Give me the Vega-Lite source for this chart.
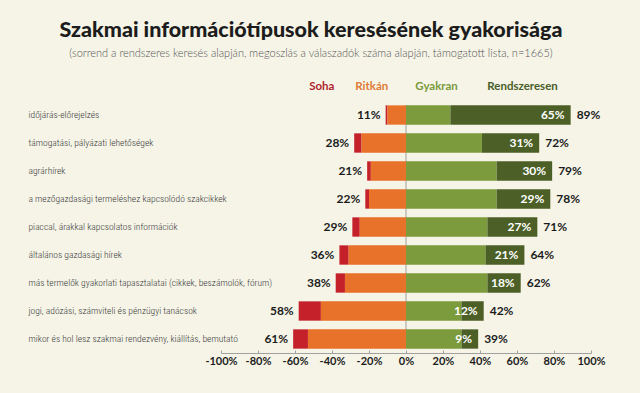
{
  "$schema": "https://vega.github.io/schema/vega-lite/v6.json",
  "width": 370,
  "height": 280,
  "autosize": {"type": "none"},
  "padding": {"left": 221, "top": 73, "right": 49, "bottom": 40},
  "background": "#f5f4e7",
  "title": {
    "text": "Szakmai információtípusok keresésének gyakorisága",
    "subtitle": "(sorrend a rendszeres keresés alapján, megoszlás a válaszadók száma alapján, támogatott lista, n=1665)",
    "anchor": "middle",
    "dx": -95,
    "font": "Lato",
    "fontSize": 21.5,
    "fontWeight": 900,
    "color": "#1c1c1c",
    "subtitleFont": "Lato",
    "subtitleFontSize": 11,
    "subtitleFontWeight": 300,
    "subtitleColor": "#555555",
    "subtitlePadding": 7,
    "offset": 14
  },
  "config": {
    "view": {"stroke": null},
    "font": "Lato"
  },
  "datasets": {
    "bars": [
      {"cat": "időjárás-előrejelzés", "type": "Soha", "ord": 2, "v": 0.01},
      {"cat": "időjárás-előrejelzés", "type": "Ritkán", "ord": 1, "v": 0.10},
      {"cat": "időjárás-előrejelzés", "type": "Gyakran", "ord": 1, "v": 0.24},
      {"cat": "időjárás-előrejelzés", "type": "Rendszeresen", "ord": 2, "v": 0.65},
      {"cat": "támogatási, pályázati lehetőségek", "type": "Soha", "ord": 2, "v": 0.04},
      {"cat": "támogatási, pályázati lehetőségek", "type": "Ritkán", "ord": 1, "v": 0.24},
      {"cat": "támogatási, pályázati lehetőségek", "type": "Gyakran", "ord": 1, "v": 0.41},
      {"cat": "támogatási, pályázati lehetőségek", "type": "Rendszeresen", "ord": 2, "v": 0.31},
      {"cat": "agrárhírek", "type": "Soha", "ord": 2, "v": 0.02},
      {"cat": "agrárhírek", "type": "Ritkán", "ord": 1, "v": 0.19},
      {"cat": "agrárhírek", "type": "Gyakran", "ord": 1, "v": 0.49},
      {"cat": "agrárhírek", "type": "Rendszeresen", "ord": 2, "v": 0.30},
      {"cat": "a mezőgazdasági termeléshez kapcsolódó szakcikkek", "type": "Soha", "ord": 2, "v": 0.02},
      {"cat": "a mezőgazdasági termeléshez kapcsolódó szakcikkek", "type": "Ritkán", "ord": 1, "v": 0.20},
      {"cat": "a mezőgazdasági termeléshez kapcsolódó szakcikkek", "type": "Gyakran", "ord": 1, "v": 0.49},
      {"cat": "a mezőgazdasági termeléshez kapcsolódó szakcikkek", "type": "Rendszeresen", "ord": 2, "v": 0.29},
      {"cat": "piaccal, árakkal kapcsolatos információk", "type": "Soha", "ord": 2, "v": 0.04},
      {"cat": "piaccal, árakkal kapcsolatos információk", "type": "Ritkán", "ord": 1, "v": 0.25},
      {"cat": "piaccal, árakkal kapcsolatos információk", "type": "Gyakran", "ord": 1, "v": 0.44},
      {"cat": "piaccal, árakkal kapcsolatos információk", "type": "Rendszeresen", "ord": 2, "v": 0.27},
      {"cat": "általános gazdasági hírek", "type": "Soha", "ord": 2, "v": 0.05},
      {"cat": "általános gazdasági hírek", "type": "Ritkán", "ord": 1, "v": 0.31},
      {"cat": "általános gazdasági hírek", "type": "Gyakran", "ord": 1, "v": 0.43},
      {"cat": "általános gazdasági hírek", "type": "Rendszeresen", "ord": 2, "v": 0.21},
      {"cat": "más termelők gyakorlati tapasztalatai (cikkek, beszámolók, fórum)", "type": "Soha", "ord": 2, "v": 0.05},
      {"cat": "más termelők gyakorlati tapasztalatai (cikkek, beszámolók, fórum)", "type": "Ritkán", "ord": 1, "v": 0.33},
      {"cat": "más termelők gyakorlati tapasztalatai (cikkek, beszámolók, fórum)", "type": "Gyakran", "ord": 1, "v": 0.44},
      {"cat": "más termelők gyakorlati tapasztalatai (cikkek, beszámolók, fórum)", "type": "Rendszeresen", "ord": 2, "v": 0.18},
      {"cat": "jogi, adózási, számviteli és pénzügyi tanácsok", "type": "Soha", "ord": 2, "v": 0.12},
      {"cat": "jogi, adózási, számviteli és pénzügyi tanácsok", "type": "Ritkán", "ord": 1, "v": 0.46},
      {"cat": "jogi, adózási, számviteli és pénzügyi tanácsok", "type": "Gyakran", "ord": 1, "v": 0.30},
      {"cat": "jogi, adózási, számviteli és pénzügyi tanácsok", "type": "Rendszeresen", "ord": 2, "v": 0.12},
      {"cat": "mikor és hol lesz szakmai rendezvény, kiállítás, bemutató", "type": "Soha", "ord": 2, "v": 0.08},
      {"cat": "mikor és hol lesz szakmai rendezvény, kiállítás, bemutató", "type": "Ritkán", "ord": 1, "v": 0.53},
      {"cat": "mikor és hol lesz szakmai rendezvény, kiállítás, bemutató", "type": "Gyakran", "ord": 1, "v": 0.30},
      {"cat": "mikor és hol lesz szakmai rendezvény, kiállítás, bemutató", "type": "Rendszeresen", "ord": 2, "v": 0.09}
    ],
    "labels": [
      {"cat": "időjárás-előrejelzés", "left": 0.11, "inner": 0.65, "right": 0.89},
      {"cat": "támogatási, pályázati lehetőségek", "left": 0.28, "inner": 0.31, "right": 0.72},
      {"cat": "agrárhírek", "left": 0.21, "inner": 0.30, "right": 0.79},
      {"cat": "a mezőgazdasági termeléshez kapcsolódó szakcikkek", "left": 0.22, "inner": 0.29, "right": 0.78},
      {"cat": "piaccal, árakkal kapcsolatos információk", "left": 0.29, "inner": 0.27, "right": 0.71},
      {"cat": "általános gazdasági hírek", "left": 0.36, "inner": 0.21, "right": 0.64},
      {"cat": "más termelők gyakorlati tapasztalatai (cikkek, beszámolók, fórum)", "left": 0.38, "inner": 0.18, "right": 0.62},
      {"cat": "jogi, adózási, számviteli és pénzügyi tanácsok", "left": 0.58, "inner": 0.12, "right": 0.42},
      {"cat": "mikor és hol lesz szakmai rendezvény, kiállítás, bemutató", "left": 0.61, "inner": 0.09, "right": 0.39}
    ],
    "headers": [
      {"cat": "", "h": "Soha", "x": -0.455},
      {"cat": "", "h": "Ritkán", "x": -0.185},
      {"cat": "", "h": "Gyakran", "x": 0.165},
      {"cat": "", "h": "Rendszeresen", "x": 0.63}
    ]
  },
  "encoding": {
    "y": {
      "field": "cat",
      "type": "nominal",
      "scale": {
        "domain": ["", "időjárás-előrejelzés", "támogatási, pályázati lehetőségek", "agrárhírek", "a mezőgazdasági termeléshez kapcsolódó szakcikkek", "piaccal, árakkal kapcsolatos információk", "általános gazdasági hírek", "más termelők gyakorlati tapasztalatai (cikkek, beszámolók, fórum)", "jogi, adózási, számviteli és pénzügyi tanácsok", "mikor és hol lesz szakmai rendezvény, kiállítás, bemutató"],
        "paddingInner": 0.31,
        "paddingOuter": 0.155
      },
      "axis": {
        "title": null,
        "domain": false,
        "ticks": false,
        "labelAlign": "left",
        "labelPadding": 193,
        "labelFontSize": 9.5,
        "labelFont": "Roboto Condensed, DejaVu Sans Condensed, sans-serif",
        "labelFontWeight": 300,
        "labelColor": "#3a3a3a",
        "labelLimit": 300
      }
    }
  },
  "layer": [
    {
      "data": {"values": [{"a": 1}]},
      "mark": {"type": "rule", "color": "#a0a0a0", "strokeWidth": 1},
      "encoding": {
        "x": {"datum": 0, "type": "quantitative", "scale": {"domain": [-1, 1]}, "axis": {
          "title": null,
          "values": [-1, -0.8, -0.6, -0.4, -0.2, 0, 0.2, 0.4, 0.6, 0.8, 1],
          "labelExpr": "round(datum.value * 100) + '%'",
          "labelOverlap": false,
          "labelFlush": false,
          "labelFont": "Lato",
          "labelFontWeight": "bold",
          "labelFontSize": 11,
          "labelColor": "#1c1c1c",
          "labelPadding": 5,
          "domainColor": "#a0a0a0",
          "tickColor": "#a0a0a0",
          "tickSize": -3,
          "grid": false
        }},
        "y": {"datum": "időjárás-előrejelzés", "bandPosition": 0},
        "y2": {"datum": "mikor és hol lesz szakmai rendezvény, kiállítás, bemutató"}
      }
    },
    {
      "data": {"name": "bars"},
      "transform": [{"filter": "datum.type === 'Gyakran' || datum.type === 'Rendszeresen'"}],
      "mark": {"type": "bar"},
      "encoding": {
        "x": {"field": "v", "type": "quantitative", "stack": "zero", "scale": {"domain": [-1, 1]}, "axis": null},
        "order": {"field": "ord"},
        "color": {"field": "type", "type": "nominal", "legend": null, "scale": {
          "domain": ["Soha", "Ritkán", "Gyakran", "Rendszeresen"],
          "range": ["#c4212b", "#e8722a", "#7c9b3c", "#4b5f26"]
        }}
      }
    },
    {
      "data": {"name": "bars"},
      "transform": [{"filter": "datum.type === 'Soha' || datum.type === 'Ritkán'"}],
      "mark": {"type": "bar"},
      "encoding": {
        "x": {"field": "v", "type": "quantitative", "stack": "zero", "scale": {"domain": [1, -1]}, "axis": null},
        "order": {"field": "ord"},
        "color": {"field": "type", "type": "nominal", "legend": null, "scale": {
          "domain": ["Soha", "Ritkán", "Gyakran", "Rendszeresen"],
          "range": ["#c4212b", "#e8722a", "#7c9b3c", "#4b5f26"]
        }}
      }
    },
    {
      "data": {"name": "labels"},
      "mark": {"type": "text", "align": "right", "baseline": "middle", "dx": -5, "fontSize": 12, "fontWeight": "bold", "color": "#1c1c1c"},
      "encoding": {
        "x": {"field": "left", "type": "quantitative", "scale": {"domain": [1, -1]}, "axis": null},
        "text": {"field": "left", "format": ".0%"}
      }
    },
    {
      "data": {"name": "labels"},
      "mark": {"type": "text", "align": "right", "baseline": "middle", "dx": -6, "fontSize": 12, "fontWeight": "bold", "color": "#ffffff"},
      "encoding": {
        "x": {"field": "right", "type": "quantitative", "scale": {"domain": [-1, 1]}, "axis": null},
        "text": {"field": "inner", "format": ".0%"}
      }
    },
    {
      "data": {"name": "labels"},
      "mark": {"type": "text", "align": "left", "baseline": "middle", "dx": 6, "fontSize": 12, "fontWeight": "bold", "color": "#1c1c1c"},
      "encoding": {
        "x": {"field": "right", "type": "quantitative", "scale": {"domain": [-1, 1]}, "axis": null},
        "text": {"field": "right", "format": ".0%"}
      }
    },
    {
      "data": {"name": "headers"},
      "mark": {"type": "text", "align": "center", "baseline": "middle", "fontSize": 11.5, "fontWeight": "bold"},
      "encoding": {
        "x": {"field": "x", "type": "quantitative", "scale": {"domain": [-1, 1]}, "axis": null},
        "text": {"field": "h"},
        "color": {"field": "h", "type": "nominal", "legend": null, "scale": {
          "domain": ["Soha", "Ritkán", "Gyakran", "Rendszeresen"],
          "range": ["#b01e2e", "#e07a38", "#7a9a3c", "#4a5e28"]
        }}
      }
    }
  ],
  "resolve": {"scale": {"x": "independent", "color": "independent"}, "axis": {"x": "independent"}}
}
